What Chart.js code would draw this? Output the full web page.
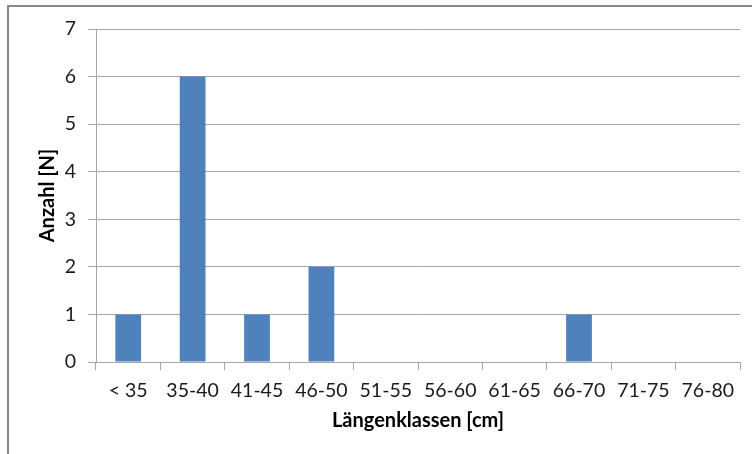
<!DOCTYPE html>
<html>
<head>
<meta charset="utf-8">
<script src="https://cdn.jsdelivr.net/npm/chart.js@4/dist/chart.umd.min.js"></script>
<style>
  html, body { margin: 0; padding: 0; background: #fff; }
  #wrap { width: 752px; height: 454px; }
</style>
</head>
<body>
<div id="wrap"><canvas id="chart_laengen" width="752" height="454"></canvas></div>
<script>
const klassen = ["< 35", "35-40", "41-45", "46-50", "51-55", "56-60", "61-65", "66-70", "71-75", "76-80"];
const anzahl = [1, 6, 1, 2, 0, 0, 0, 1, 0, 0];
const yTicks = [0, 1, 2, 3, 4, 5, 6, 7];

const fontName = "Lato, 'Open Sans', sans-serif";

// grauer Rahmen wie im Excel-Diagramm
const rahmen = {
    id: 'rahmen',
    beforeDraw(chart) {
        const c = chart.ctx;
        c.save();
        c.fillStyle = '#fff';
        c.fillRect(0, 0, chart.width, chart.height);
        c.strokeStyle = '#898989';
        c.lineWidth = 2;
        c.strokeRect(8, 6, 800, 500);
        c.restore();
    }
};

const ctx = document.getElementById('chart_laengen');
new Chart(ctx, {
    type: 'bar',
    data: {
        labels: klassen,
        datasets: [{
            label: 'Anzahl',
            data: anzahl,
            backgroundColor: '#4F81BD',
            borderWidth: 0,
            categoryPercentage: 1,
            barPercentage: 0.4
        }]
    },
    options: {
        responsive: false,
        animation: false,
        layout: {
            padding: { top: 29, right: 12, bottom: 21, left: 0 }
        },
        plugins: {
            legend: { display: false },
            tooltip: { enabled: false }
        },
        scales: {
            x: {
                offset: true,
                grid: {
                    offset: true,
                    drawOnChartArea: false,
                    tickLength: 8,
                    color: '#A6A6A6'
                },
                border: { color: '#A6A6A6' },
                ticks: {
                    color: '#1a1a1a',
                    padding: 9,
                    maxRotation: 0,
                    autoSkip: false,
                    font: { family: fontName, size: 19.5 }
                },
                title: {
                    display: true,
                    text: 'Längenklassen [cm]',
                    color: '#000',
                    padding: 0,
                    font: { family: fontName, size: 20, weight: 'bold' }
                },
                afterFit(scale) { scale.height = 71; }
            },
            y: {
                min: 0,
                max: 7,
                afterBuildTicks(scale) {
                    scale.ticks = yTicks.map(v => ({ value: v }));
                },
                grid: {
                    tickLength: 8,
                    color: '#A6A6A6'
                },
                border: { color: '#A6A6A6' },
                ticks: {
                    color: '#1a1a1a',
                    padding: 12,
                    font: { family: fontName, size: 19.5 }
                },
                title: {
                    display: true,
                    text: 'Anzahl [N]',
                    color: '#000',
                    padding: { top: 36, bottom: 0 },
                    font: { family: fontName, size: 20, weight: 'bold' }
                },
                afterFit(scale) { scale.width = 96; }
            }
        }
    },
    plugins: [rahmen]
});
</script>
</body>
</html>
